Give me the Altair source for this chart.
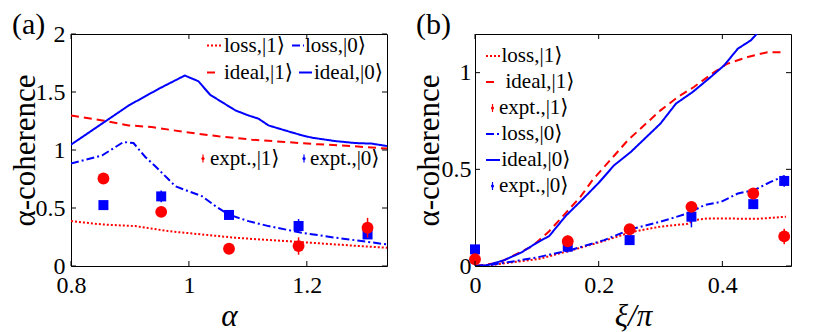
import altair as alt
import pandas as pd

FONT = "'Liberation Serif', 'Times New Roman', Tinos, 'DejaVu Serif', serif"
RED = "#ff0000"
BLUE = "#0000ff"
W, H = 316, 232

# ---------------- panel (a): alpha ----------------
a_xticks = [0.8, 1.0, 1.2]
a_yticks = [0, 0.5, 1, 1.5, 2]

a_ideal0_x = [0.8, 0.898, 0.949, 0.993, 1.016, 1.036, 1.056, 1.079, 1.101, 1.118, 1.135, 1.163, 1.192, 1.209, 1.248, 1.282, 1.310, 1.336]
a_ideal0_y = [1.046, 1.384, 1.528, 1.642, 1.593, 1.476, 1.413, 1.341, 1.298, 1.270, 1.212, 1.169, 1.126, 1.106, 1.077, 1.060, 1.055, 1.034]

a_ideal1_x = [0.8, 0.853, 0.898, 0.937, 0.993, 1.050, 1.107, 1.163, 1.220, 1.276, 1.336]
a_ideal1_y = [1.298, 1.255, 1.212, 1.198, 1.155, 1.118, 1.089, 1.069, 1.049, 1.034, 1.012]

a_loss0_x = [0.8, 0.853, 0.889, 0.906, 0.926, 0.943, 0.977, 0.999, 1.022, 1.045, 1.067, 1.101, 1.135, 1.191, 1.248, 1.293, 1.336]
a_loss0_y = [0.883, 0.954, 1.069, 1.060, 0.940, 0.860, 0.688, 0.645, 0.602, 0.516, 0.444, 0.387, 0.344, 0.287, 0.244, 0.215, 0.186]

a_loss1_x = [0.8, 0.853, 0.909, 0.966, 1.022, 1.078, 1.135, 1.191, 1.248, 1.336]
a_loss1_y = [0.387, 0.358, 0.344, 0.300, 0.272, 0.244, 0.224, 0.206, 0.186, 0.157]

a_expt_x = [0.855, 0.953, 1.068, 1.186, 1.303]
a_expt1_y = [0.754, 0.467, 0.149, 0.172, 0.330]
a_expt1_err = [0.02, 0.02, 0.02, 0.075, 0.085]
a_expt0_y = [0.525, 0.600, 0.440, 0.345, 0.272]
a_expt0_err = [0.02, 0.05, 0.03, 0.06, 0.03]

# ---------------- panel (b): xi/pi ----------------
b_xticks = [0, 0.2, 0.4]
b_yticks = [0, 0.5, 1]

b_ideal1_x = [0, 0.039, 0.066, 0.093, 0.12, 0.147, 0.171, 0.19, 0.247, 0.30, 0.328, 0.354, 0.387, 0.408, 0.441, 0.473, 0.497]
b_ideal1_y = [0, 0.017, 0.06, 0.103, 0.18, 0.275, 0.36, 0.444, 0.65, 0.805, 0.874, 0.926, 1.003, 1.046, 1.081, 1.106, 1.106]

b_ideal0_x = [0, 0.02, 0.047, 0.075, 0.1, 0.12, 0.147, 0.174, 0.2, 0.225, 0.252, 0.30, 0.325, 0.352, 0.381, 0.403, 0.425, 0.446, 0.47]
b_ideal0_y = [0, 0.004, 0.03, 0.07, 0.12, 0.155, 0.26, 0.345, 0.43, 0.521, 0.59, 0.737, 0.84, 0.90, 0.977, 1.038, 1.124, 1.167, 1.25]

b_loss0_x = [0, 0.03, 0.066, 0.101, 0.155, 0.209, 0.252, 0.30, 0.344, 0.371, 0.398, 0.425, 0.451, 0.478, 0.50]
b_loss0_y = [0, 0.008, 0.026, 0.045, 0.083, 0.134, 0.19, 0.229, 0.272, 0.315, 0.332, 0.375, 0.392, 0.435, 0.465]

b_loss1_x = [0, 0.03, 0.066, 0.101, 0.155, 0.209, 0.252, 0.30, 0.344, 0.354, 0.376, 0.425, 0.462, 0.503]
b_loss1_y = [0, 0.006, 0.022, 0.035, 0.08, 0.13, 0.175, 0.204, 0.218, 0.238, 0.246, 0.245, 0.245, 0.255]

b_expt_x = [0, 0.15, 0.25, 0.35, 0.45, 0.5]
b_expt1_y = [0.035, 0.128, 0.19, 0.306, 0.375, 0.153]
b_expt1_err = [0.02, 0.03, 0.02, 0.02, 0.02, 0.04]
b_expt0_y = [0.086, 0.10, 0.134, 0.255, 0.32, 0.44]
b_expt0_err = [0.02, 0.03, 0.02, 0.055, 0.02, 0.03]

DOT = [2, 2]
DASH = [8, 5]
DASHDOT = [8, 3, 2, 3]
SOLID = [1, 0]


def panel(xdom, ydom, xticks, yticks, xtitle, ylabpad, lines, expts, label, legend):
    xaxis = alt.Axis(values=xticks, title=xtitle, ticks=False, tickSize=0, domain=False, grid=False,
                     labelPadding=7, titlePadding=4, labelFontSize=24, titleFontSize=31,
                     titleFontStyle="italic", titleFontWeight="normal", labelFont=FONT, titleFont=FONT,
                     labelColor="black", titleColor="black", labelFlush=False, format="~g")
    yaxis = alt.Axis(values=yticks, title="α-coherence", ticks=False, tickSize=0, domain=False, grid=False,
                     labelPadding=ylabpad, titlePadding=0, minExtent=30, maxExtent=30,
                     labelFontSize=24, titleFontSize=31, titleFontWeight="normal",
                     labelFont=FONT, titleFont=FONT, labelColor="black", titleColor="black",
                     labelFlush=False, format="~g")
    xs = alt.Scale(domain=xdom, nice=False, zero=False)
    ys = alt.Scale(domain=ydom, nice=False, zero=False)

    def X(f="x"):
        return alt.X(f, type="quantitative", scale=xs, axis=xaxis)

    def Y(f="y"):
        return alt.Y(f, type="quantitative", scale=ys, axis=yaxis)

    layers = []
    for xv, yv, color, dash, sw in lines:
        df = pd.DataFrame({"x": xv, "y": yv})
        layers.append(alt.Chart(df).mark_line(color=color, strokeDash=dash, strokeWidth=sw, clip=True)
                      .encode(x=X(), y=Y()))
    for xv, yv, ev, color, shape, size in expts:
        df = pd.DataFrame({"x": xv, "y": yv,
                           "lo": [a - b for a, b in zip(yv, ev)],
                           "hi": [a + b for a, b in zip(yv, ev)]})
        layers.append(alt.Chart(df).mark_rule(color=color, strokeWidth=1.5)
                      .encode(x=X(), y=Y("lo"), y2="hi"))
        layers.append(alt.Chart(df).mark_point(shape=shape, filled=True, size=size, color=color,
                                               opacity=1, strokeWidth=0)
                      .encode(x=X(), y=Y()))
    # inward tick marks on all four sides
    ydf = pd.DataFrame({"y": yticks})
    xdf = pd.DataFrame({"x": xticks})
    layers.append(alt.Chart(ydf).mark_rule(color="black", strokeWidth=1)
                  .encode(y=Y(), x=alt.value(0), x2=alt.value(5)))
    layers.append(alt.Chart(ydf).mark_rule(color="black", strokeWidth=1)
                  .encode(y=Y(), x=alt.value(W - 5), x2=alt.value(W)))
    layers.append(alt.Chart(xdf).mark_rule(color="black", strokeWidth=1)
                  .encode(x=X(), y=alt.value(H), y2=alt.value(H - 5)))
    layers.append(alt.Chart(xdf).mark_rule(color="black", strokeWidth=1)
                  .encode(x=X(), y=alt.value(0), y2=alt.value(5)))

    one = pd.DataFrame({"k": [0]})
    # legend
    for item in legend:
        if item["kind"] == "line":
            layers.append(alt.Chart(one).mark_rule(color=item["color"], strokeDash=item["dash"],
                                                   strokeWidth=2)
                          .encode(x=alt.value(item["x0"]), x2=alt.value(item["x1"]),
                                  y=alt.value(item["y"])))
        else:
            layers.append(alt.Chart(one).mark_rule(color=item["color"], strokeWidth=1.2)
                          .encode(x=alt.value(item["x0"]), y=alt.value(item["y"] - 4),
                                  y2=alt.value(item["y"] + 4)))
            layers.append(alt.Chart(one).mark_point(shape="circle", filled=True, size=10,
                                                    color=item["color"], opacity=1)
                          .encode(x=alt.value(item["x0"]), y=alt.value(item["y"])))
        layers.append(alt.Chart(one).mark_text(align="left", baseline="middle", fontSize=21,
                                               font=FONT, color="black")
                      .encode(x=alt.value(item["tx"]), y=alt.value(item["y"]),
                              text=alt.value(item["text"])))
    # panel label
    layers.append(alt.Chart(one).mark_text(align="left", baseline="top", fontSize=30, font=FONT,
                                           color="black")
                  .encode(x=alt.value(-59), y=alt.value(-24.5), text=alt.value(label)))
    return alt.layer(*layers).properties(width=W, height=H)


legend_a = [
    dict(kind="line", color=RED, dash=DOT, x0=136, x1=151, y=11.5, tx=153, text="loss,|1⟩"),
    dict(kind="line", color=BLUE, dash=DASHDOT, x0=221, x1=233, y=11.5, tx=234, text="loss,|0⟩"),
    dict(kind="line", color=RED, dash=DASH, x0=136, x1=146, y=38.5, tx=153, text="ideal,|1⟩"),
    dict(kind="line", color=BLUE, dash=SOLID, x0=228, x1=241, y=38.5, tx=243, text="ideal,|0⟩"),
    dict(kind="expt", color=RED, x0=132, y=124.5, tx=139, text="expt.,|1⟩"),
    dict(kind="expt", color=BLUE, x0=233, y=124.5, tx=239, text="expt.,|0⟩"),
]

legend_b = [
    dict(kind="line", color=RED, dash=DOT, x0=11, x1=25, y=22, tx=26.5, text="loss,|1⟩"),
    dict(kind="line", color=RED, dash=DASH, x0=11, x1=19, y=48, tx=30.5, text="ideal,|1⟩"),
    dict(kind="expt", color=RED, x0=17.5, y=74, tx=24, text="expt.,|1⟩"),
    dict(kind="line", color=BLUE, dash=DASHDOT, x0=11, x1=25, y=100, tx=26.5, text="loss,|0⟩"),
    dict(kind="line", color=BLUE, dash=SOLID, x0=11, x1=25, y=126, tx=26.5, text="ideal,|0⟩"),
    dict(kind="expt", color=BLUE, x0=17.5, y=152, tx=24, text="expt.,|0⟩"),
]

chart_a = panel(
    [0.8, 1.336], [0, 2], a_xticks, a_yticks, "α", 6,
    [(a_loss1_x, a_loss1_y, RED, DOT, 2),
     (a_loss0_x, a_loss0_y, BLUE, DASHDOT, 2),
     (a_ideal1_x, a_ideal1_y, RED, DASH, 2),
     (a_ideal0_x, a_ideal0_y, BLUE, SOLID, 2)],
    [(a_expt_x, a_expt0_y, a_expt0_err, BLUE, "square", 100),
     (a_expt_x, a_expt1_y, a_expt1_err, RED, "circle", 140)],
    "(a)", legend_a)

chart_b = panel(
    [0, 0.511], [0, 1.2], b_xticks, b_yticks, "ξ/π", 4,
    [(b_loss1_x, b_loss1_y, RED, DOT, 2),
     (b_ideal1_x, b_ideal1_y, RED, DASH, 2),
     (b_loss0_x, b_loss0_y, BLUE, DASHDOT, 2),
     (b_ideal0_x, b_ideal0_y, BLUE, SOLID, 2)],
    [(b_expt_x, b_expt0_y, b_expt0_err, BLUE, "square", 100),
     (b_expt_x, b_expt1_y, b_expt1_err, RED, "circle", 140)],
    "(b)", legend_b)

chart = (alt.hconcat(chart_a, chart_b, spacing=24)
         .properties(padding={"left": 0, "top": 1, "right": 0, "bottom": 0}, background="white")
         .configure(font=FONT)
         .configure_view(stroke="black", strokeWidth=1))

chart.save("out.html", embed_options={"renderer": "svg", "actions": False})
